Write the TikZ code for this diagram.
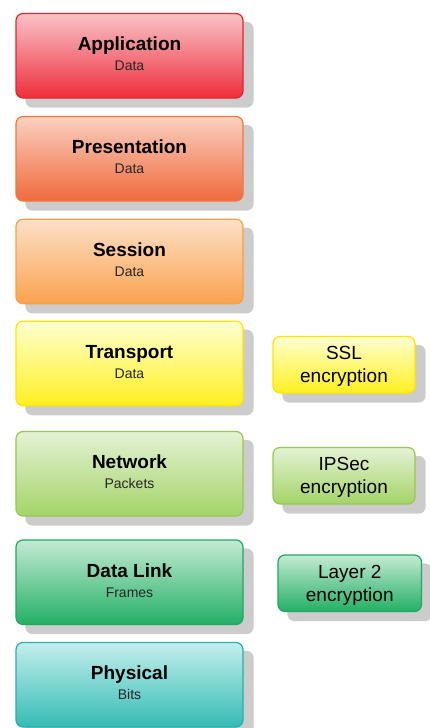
\documentclass[tikz,border=0pt]{standalone}
\usepackage{fontspec}
\setmainfont{Liberation Sans}
\usetikzlibrary{backgrounds,calc}
\definecolor{shadowgray}{HTML}{CCCCCC}
\definecolor{appT}{HTML}{F9C3C8}\definecolor{appB}{HTML}{EE2E3B}\definecolor{appD}{HTML}{E8232F}
\definecolor{preT}{HTML}{FBD0C0}\definecolor{preB}{HTML}{F06A3C}\definecolor{preD}{HTML}{F07840}
\definecolor{sesT}{HTML}{FDE0C8}\definecolor{sesB}{HTML}{FBA24E}\definecolor{sesD}{HTML}{F7A040}
\definecolor{traT}{HTML}{FFFFD0}\definecolor{traB}{HTML}{FFF020}\definecolor{traD}{HTML}{FFE400}
\definecolor{netT}{HTML}{E4F2D4}\definecolor{netB}{HTML}{A4D468}\definecolor{netD}{HTML}{98C850}
\definecolor{dlkT}{HTML}{C4EAD4}\definecolor{dlkB}{HTML}{22B064}\definecolor{dlkD}{HTML}{20A860}
\definecolor{phyT}{HTML}{C4EEEE}\definecolor{phyB}{HTML}{34BCB4}\definecolor{phyD}{HTML}{28B0AC}
\tikzset{
  layerbox/.style={rounded corners=7pt, minimum width=227pt, minimum height=84.5pt, line width=1.2pt, inner sep=0pt},
  sidebox/.style={rounded corners=7pt, minimum width=142pt, minimum height=56.5pt, line width=1.2pt, inner sep=0pt},
  ttl/.style={anchor=base, font=\fontsize{19}{23}\selectfont\bfseries, inner sep=0pt},
  subt/.style={anchor=base, font=\fontsize{14}{17}\selectfont, text=black!85, inner sep=0pt},
  stxt/.style={anchor=base, font=\fontsize{19}{23}\selectfont, inner sep=0pt},
  shadowbox/.style={fill=shadowgray, rounded corners=7pt},
  palette/.style={top color=#1T, bottom color=#1B, draw=#1D}
}
\begin{document}
\begin{tikzpicture}[x=1pt,y=-1pt]
\useasboundingbox (0,0) rectangle (430,728);
\foreach \n/\y/\t/\s in {app/55.75/Application/Data, pre/158.75/Presentation/Data, ses/261.5/Session/Data, tra/363.5/Transport/Data, net/473.75/Network/Packets, dlk/582.25/Data Link/Frames, phy/684.75/Physical/Bits}{
  \node[layerbox, palette=\n] (\n) at (129.5,\y) {};
  \node[ttl] (\n t) at ($(\n.center)+(0,-5)$) {\t};
  \node[subt] (\n s) at ($(\n.center)+(0,15)$) {\s};
}
\node[sidebox, palette=tra] (ssl) at (344,364.75) {};
\node[sidebox, palette=net] (ipsec) at (344,475.75) {};
\node[sidebox, palette=dlk, minimum width=143.5pt] (ltwo) at (349.75,583.25) {};
\foreach \n/\a/\b in {ssl/SSL/encryption, ipsec/IPSec/encryption, ltwo/Layer 2/encryption}{
  \node[stxt] (\n a) at ($(\n.center)+(0,-5)$) {\a};
  \node[stxt] (\n b) at ($(\n.center)+(0,18)$) {\b};
}
\begin{scope}[on background layer]
\foreach \n in {app,pre,ses,tra,net,dlk,phy,ssl,ipsec,ltwo}{
  \fill[shadowbox] ($(\n.north west)+(10,9)$) rectangle ($(\n.south east)+(10,9)$);
}
\end{scope}
\end{tikzpicture}
\end{document}
